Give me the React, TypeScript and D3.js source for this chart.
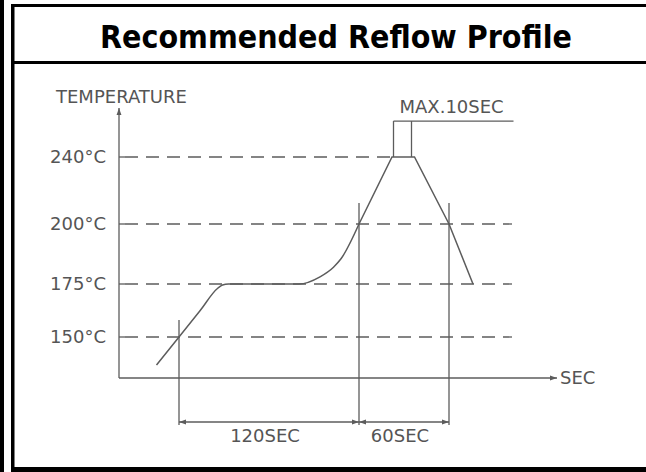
import * as d3 from "d3";

// reflow profile
const curveTime = [25, 40, 54, 66, 69, 73, 120, 134, 143, 148, 160];
const curveTemp = [129.5, 150, 162.4, 173.1, 174.5, 175, 175, 178, 182, 185.5, 200];
const peakTime = [160, 182, 197, 220, 236];
const peakTemp = [200, 240, 240, 200, 175];

const tempTicks = [150, 175, 200, 240];
const tempLabels = ["150°C", "175°C", "200°C", "240°C"];

const markTime = [40, 160, 220];
const markTopTemp = [158, 212.5, 212.5];
const spanFrom = [40, 160];
const spanTo = [160, 220];
const spanLabels = ["120SEC", "60SEC"];

const holdTime = [183, 195];
const holdLevel = 262;
const holdLabel = "MAX.10SEC";

const W = 646, H = 472;
const INK = "#5c5c5c";
const TXT = "#555";
const FONT = "DejaVu Sans, sans-serif";

const App = () => {
  const x = d3.scaleLinear().domain([0, 290]).range([119, 554]);
  // the drawing is not to scale, so temperatures map piecewise
  const y = d3.scaleLinear()
    .domain([120, 150, 175, 200, 240, 270])
    .range([378, 337, 284, 224, 157, 108]);

  const axisY = y(120);
  const dimY = axisY + 44;
  const dimBottom = axisY + 47;

  const soak = d3.line<number>()
    .x((d) => x(d))
    .y((d, i) => y(curveTemp[i]))
    .curve(d3.curveMonotoneX);
  const peak = d3.line<number>()
    .x((d) => x(d))
    .y((d, i) => y(peakTemp[i]));

  return (
    <svg width={W} height={H} style={{ position: "absolute", left: 0, top: 0, background: "#fff" }}>
      <defs>
        <marker id="arr" viewBox="0 0 10 10" refX="10" refY="5" markerWidth="7" markerHeight="7"
          markerUnits="userSpaceOnUse" orient="auto-start-reverse">
          <path d="M0,1.5 L10,5 L0,8.5 Z" fill={INK} />
        </marker>
      </defs>

      {/* frame */}
      <rect x={0} y={0} width={4} height={H} fill="#000" />
      <rect x={11} y={4} width={3.5} height={H - 4} fill="#000" />
      <rect x={11} y={4} width={W - 11} height={3} fill="#000" />
      <rect x={11} y={61} width={W - 11} height={3} fill="#000" />
      <rect x={11} y={467} width={W - 11} height={5} fill="#000" />

      <text x={336} y={48} textAnchor="middle" fontFamily="DejaVu Sans, sans-serif"
        fontWeight="bold" fontSize={32} textLength={472} lengthAdjust="spacingAndGlyphs" fill="#000">
        Recommended Reflow Profile
      </text>

      <g fill="none" stroke={INK} strokeWidth={1.3}>
        {/* axes */}
        <line x1={x(0)} x2={x(0)} y1={axisY} y2={y(270)} markerEnd="url(#arr)" />
        <line x1={x(0)} x2={x(292)} y1={axisY} y2={axisY} markerEnd="url(#arr)" />

        {/* temperature guides */}
        {tempTicks.map((t) => (
          <line key={t} x1={x(0)} x2={t === 240 ? x(182) : x(262)} y1={y(t)} y2={y(t)}
            strokeDasharray="13 8" strokeDashoffset={-6} />
        ))}
        {tempTicks.map((t) => (
          <line key={"k" + t} x1={x(0)} x2={x(0) + 6} y1={y(t)} y2={y(t)} />
        ))}

        {/* time marks */}
        {markTime.map((t, i) => (
          <line key={t} x1={x(t)} x2={x(t)} y1={y(markTopTemp[i])} y2={dimBottom} />
        ))}
        {spanFrom.map((t, i) => (
          <line key={"s" + t} x1={x(t)} x2={x(spanTo[i])} y1={dimY} y2={dimY}
            markerStart="url(#arr)" markerEnd="url(#arr)" />
        ))}

        {/* peak hold bracket */}
        {holdTime.map((t) => (
          <line key={"h" + t} x1={x(t)} x2={x(t)} y1={y(240)} y2={y(holdLevel)} />
        ))}
        <line x1={x(holdTime[0])} x2={x(263)} y1={y(holdLevel)} y2={y(holdLevel)} />

        {/* profile */}
        <path d={soak(curveTime) || ""} strokeWidth={1.5} />
        <path d={peak(peakTime) || ""} strokeWidth={1.5} />
      </g>

      <g fontFamily={FONT} fontSize={18} fill={TXT}>
        <text x={56} y={103}>TEMPERATURE</text>
        {tempTicks.map((t, i) => (
          <text key={t} x={106} y={y(t)} dy="0.36em" textAnchor="end">{tempLabels[i]}</text>
        ))}
        <text x={x(292) + 3} y={axisY} dy="0.36em">SEC</text>
        <text x={x(holdTime[0]) + 6} y={y(holdLevel) - 8}>{holdLabel}</text>
        {spanLabels.map((s, i) => (
          <text key={s} x={(x(spanFrom[i]) + x(spanTo[i])) / 2 - 4} y={dimY + 20} textAnchor="middle">{s}</text>
        ))}
      </g>
    </svg>
  );
};

export default App;
